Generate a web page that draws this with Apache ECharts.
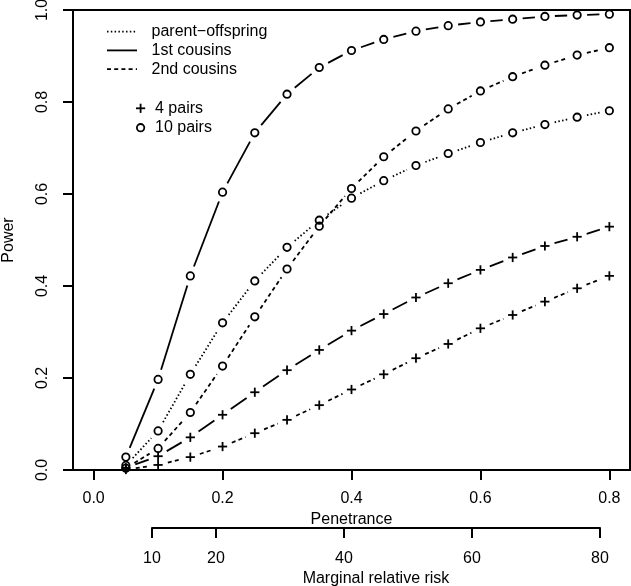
<!DOCTYPE html>
<html><head><meta charset="utf-8">
<script src="https://cdn.jsdelivr.net/npm/echarts@6/dist/echarts.min.js"></script>
<style>html,body{margin:0;padding:0;background:#fff}#c{width:631px;height:586px}</style>
</head><body><div id="c"></div>
<script>
// ---- data ----
const penetrance = [0.05,0.10,0.15,0.20,0.25,0.30,0.35,0.40,0.45,0.50,0.55,0.60,0.65,0.70,0.75,0.80];
const parentOffspring10 = [0.010,0.085,0.208,0.320,0.411,0.484,0.543,0.591,0.629,0.662,0.688,0.712,0.733,0.751,0.767,0.781];
const firstCousins10    = [0.028,0.197,0.422,0.604,0.733,0.817,0.875,0.912,0.936,0.954,0.966,0.974,0.980,0.986,0.989,0.991];
const secondCousins10   = [0.004,0.047,0.125,0.226,0.333,0.437,0.530,0.612,0.681,0.737,0.785,0.824,0.855,0.880,0.902,0.918];
const firstCousins4     = [0.005,0.030,0.071,0.120,0.169,0.217,0.261,0.303,0.339,0.375,0.406,0.435,0.462,0.487,0.507,0.529];
const secondCousins4    = [0.001,0.011,0.028,0.051,0.080,0.109,0.141,0.175,0.208,0.243,0.274,0.308,0.337,0.366,0.395,0.422];
const penetranceTicks = [0,0.2,0.4,0.6,0.8];
const riskTicks = [10,20,40,60,80];
const legendLines = ['parent\u2212offspring','1st cousins','2nd cousins'];
const legendMarkers = ['4 pairs','10 pairs'];

const FONT = '"Liberation Sans", Arial, Helvetica, sans-serif';
const GAP = 10, LW = 1.8;
const DOTTED = [1.5,2.3], DASHED = [4,3.2];

function makeData(vals){
  return penetrance.map((p,i)=>{
    const j = Math.min(i+1, penetrance.length-1);
    return [p, vals[i], penetrance[j], vals[j]];
  });
}
function curve(name, vals, dash, marker){
  return {
    type:'custom', name, coordinateSystem:'cartesian2d', xAxisIndex:0, yAxisIndex:0,
    data: makeData(vals), encode:{x:0,y:1}, clip:false, silent:true,
    renderItem:function(params, api){
      const p = api.coord([api.value(0), api.value(1)]);
      const q = api.coord([api.value(2), api.value(3)]);
      const children = [];
      const dx=q[0]-p[0], dy=q[1]-p[1], d=Math.hypot(dx,dy);
      if (d > 2*GAP){
        const ux=dx/d, uy=dy/d;
        children.push({type:'line', shape:{x1:p[0]+ux*GAP,y1:p[1]+uy*GAP,x2:q[0]-ux*GAP,y2:q[1]-uy*GAP},
          style:{stroke:'#000', lineWidth:LW, lineDash:dash, fill:null}});
      }
      if (marker==='circle'){
        children.push({type:'circle', shape:{cx:p[0],cy:p[1],r:3.7}, style:{fill:null, stroke:'#000', lineWidth:LW}});
      } else {
        const s=4.6;
        children.push({type:'line', shape:{x1:p[0]-s,y1:p[1],x2:p[0]+s,y2:p[1]}, style:{stroke:'#000',lineWidth:LW}});
        children.push({type:'line', shape:{x1:p[0],y1:p[1]-s,x2:p[0],y2:p[1]+s}, style:{stroke:'#000',lineWidth:LW}});
      }
      return {type:'group', children};
    }
  };
}

const txt = {color:'#000', fontSize:16, fontFamily:FONT};
const chart = echarts.init(document.getElementById('c'), null, {renderer:'canvas'});

// legend graphics
const lg = [];
const lineDashes = [DOTTED, null, DASHED];
legendLines.forEach((t,i)=>{
  const y = 31.7 + i*18.7;
  lg.push({type:'line', shape:{x1:107,y1:y,x2:137,y2:y}, style:{stroke:'#000', lineWidth:LW, lineDash:lineDashes[i]}});
  lg.push({type:'text', x:151.5, y:y, style:{text:t, fill:'#000', font:'16px '+FONT, textAlign:'left', textVerticalAlign:'middle'}});
});
const my = [108.3, 127.7];
lg.push({type:'line', shape:{x1:136,y1:my[0],x2:145.2,y2:my[0]}, style:{stroke:'#000',lineWidth:LW}});
lg.push({type:'line', shape:{x1:140.6,y1:my[0]-4.6,x2:140.6,y2:my[0]+4.6}, style:{stroke:'#000',lineWidth:LW}});
lg.push({type:'circle', shape:{cx:140.6,cy:my[1],r:3.7}, style:{fill:null, stroke:'#000', lineWidth:LW}});
legendMarkers.forEach((t,i)=>{
  lg.push({type:'text', x:155, y:my[i], style:{text:t, fill:'#000', font:'16px '+FONT, textAlign:'left', textVerticalAlign:'middle'}});
});

chart.setOption({
  animation:false,
  backgroundColor:'#fff',
  grid:[
    {left:73, right:1, top:10, height:460, show:true, borderColor:'#000', borderWidth:2, backgroundColor:'transparent', containLabel:false, outerBoundsMode:'none'},
    {left:152, width:448, top:527, height:1, show:false, containLabel:false, outerBoundsMode:'none'}
  ],
  xAxis:[
    {gridIndex:0, type:'value', min:-0.032, max:0.832, position:'bottom',
     axisLine:{show:false, onZero:false}, splitLine:{show:false},
     axisTick:{show:true, customValues:penetranceTicks, length:10, lineStyle:{color:'#000', width:2}},
     axisLabel:Object.assign({customValues:penetranceTicks, margin:21, formatter:v=>Number(v).toFixed(1)}, txt),
     name:'Penetrance', nameLocation:'middle', nameGap:42, nameTextStyle:txt},
    {gridIndex:1, type:'value', min:10, max:80, position:'bottom',
     axisLine:{show:true, onZero:false, lineStyle:{color:'#000', width:2}}, splitLine:{show:false},
     axisTick:{show:true, customValues:riskTicks, length:10, lineStyle:{color:'#000', width:2}},
     axisLabel:Object.assign({customValues:riskTicks, margin:23, formatter:v=>String(v)}, txt),
     name:'Marginal relative risk', nameLocation:'middle', nameGap:43, nameTextStyle:txt}
  ],
  yAxis:[
    {gridIndex:0, type:'value', min:0, max:1, interval:0.2, position:'left',
     axisLine:{show:false, onZero:false}, splitLine:{show:false},
     axisTick:{show:true, length:10, lineStyle:{color:'#000', width:2}},
     axisLabel:Object.assign({rotate:90, margin:22, formatter:v=>Number(v).toFixed(1)}, txt),
     name:'Power', nameLocation:'middle', nameGap:56, nameRotate:90, nameTextStyle:txt},
    {gridIndex:1, type:'value', min:0, max:1, show:false}
  ],
  graphic: lg,
  series:[
    curve('parent\u2212offspring, 10 pairs', parentOffspring10, DOTTED, 'circle'),
    curve('1st cousins, 10 pairs', firstCousins10, null, 'circle'),
    curve('2nd cousins, 10 pairs', secondCousins10, DASHED, 'circle'),
    curve('1st cousins, 4 pairs', firstCousins4, null, 'plus'),
    curve('2nd cousins, 4 pairs', secondCousins4, DASHED, 'plus')
  ]
});
</script></body></html>
